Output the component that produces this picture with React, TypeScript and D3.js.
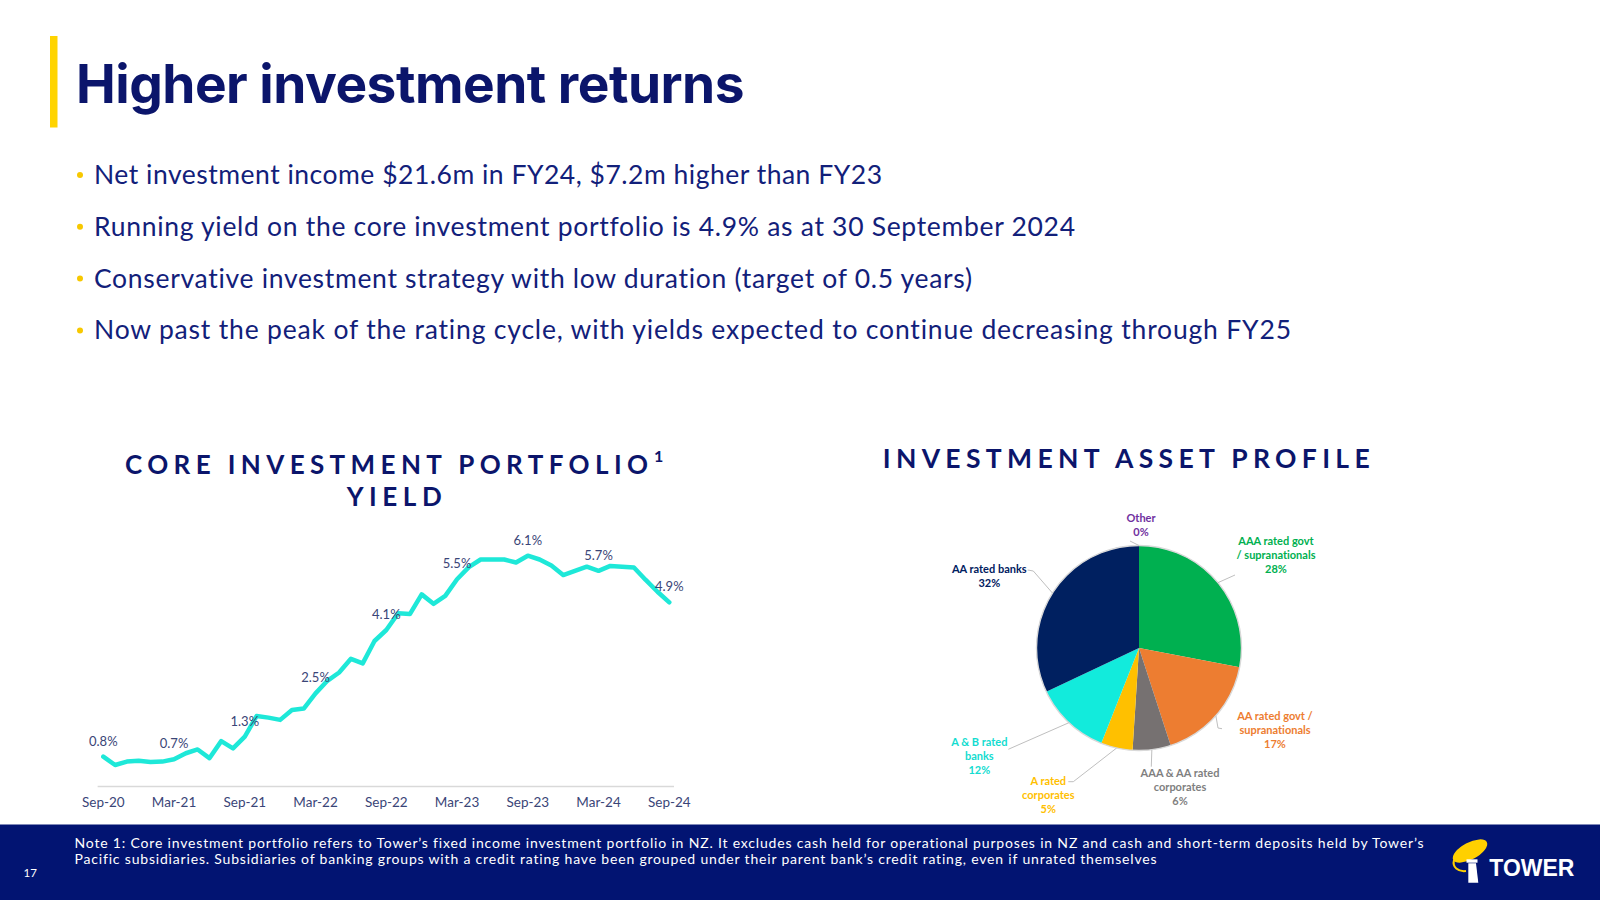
import React from 'react';
import * as d3 from 'd3';

// ---------- Data ----------
const TITLE = 'Higher investment returns';
const BULLETS = [
  'Net investment income $21.6m in FY24, $7.2m higher than FY23',
  'Running yield on the core investment portfolio is 4.9% as at 30 September 2024',
  'Conservative investment strategy with low duration (target of 0.5 years)',
  'Now past the peak of the rating cycle, with yields expected to continue decreasing through FY25',
];
const FOOTNOTE = [
  "Note 1: Core investment portfolio refers to Tower\u2019s fixed income investment portfolio in NZ.  It excludes cash held for operational purposes in NZ and cash and short-term deposits held by Tower\u2019s",
  "Pacific subsidiaries. Subsidiaries of banking groups with a credit rating have been grouped under their parent bank\u2019s credit rating, even if unrated themselves",
];

// Monthly yield (%), Sep-20 .. Sep-24
const YIELD = [
  0.80, 0.58, 0.67, 0.69, 0.66, 0.67, 0.73, 0.89, 0.99, 0.76, 1.21, 1.02,
  1.33, 1.87, 1.83, 1.77, 2.03, 2.07, 2.47, 2.80, 3.02, 3.38, 3.26, 3.85,
  4.14, 4.58, 4.56, 5.08, 4.83, 5.04, 5.48, 5.80, 6.00, 6.00, 6.00, 5.92,
  6.10, 6.00, 5.84, 5.59, 5.70, 5.81, 5.70, 5.83, 5.81, 5.79, 5.46, 5.15,
  4.87,
];
const TICK_LABELS = ['Sep-20', 'Mar-21', 'Sep-21', 'Mar-22', 'Sep-22', 'Mar-23', 'Sep-23', 'Mar-24', 'Sep-24'];
const LABEL_MONTHS = [0, 6, 12, 18, 24, 30, 36, 42, 48];
const LABEL_VALUES = [0.8, 0.7, 1.3, 2.5, 4.1, 5.5, 6.1, 5.7, 4.9];

const PIE_CATEGORIES = [
  ['Other'],
  ['AAA rated govt', '/ supranationals'],
  ['AA rated govt /', 'supranationals'],
  ['AAA & AA rated', 'corporates'],
  ['A rated', 'corporates'],
  ['A & B rated', 'banks'],
  ['AA rated banks'],
];
const PIE_VALUES = [0, 28, 17, 6, 5, 12, 32];
const PIE_COLORS = ['#7030a0', '#00b050', '#ed7d31', '#767171', '#ffc000', '#12ebdc', '#002060'];
const PIE_TEXT_COLORS = ['#7030a0', '#00b050', '#ed7d31', '#7f7f7f', '#ffc000', '#13dcd0', '#002060'];

// ---------- Layout ----------
const NAVY = '#0b156b';
const TEXT_NAVY = '#12207a';
const LINE_LABEL = '#3a4577';
const PIE_CX = 1139;
const PIE_CY = 648;
const PIE_R = 102.5;
const PIE_LABEL_LAYOUT = [
  { lx: 1141, ly: 517.3, leader: [[1130, 541]] },
  { lx: 1276, ly: 540.3, leader: [[1235, 575]] },
  { lx: 1275, ly: 715.7, leader: [[1218, 728], [1222, 728.7]] },
  { lx: 1180, ly: 772.3, leader: [[1151.3, 766.7]] },
  { lx: 1048.3, ly: 780, leader: [[1073.3, 781.7], [1068.3, 781.7]] },
  { lx: 979.3, ly: 741.7, leader: [[1008.3, 749.3]] },
  { lx: 989.3, ly: 568.3, leader: [[1033.3, 571], [1027.7, 570]] },
];
const BULLET_WIDTHS = [788, 981, 878, 1197];

export default function App() {
  const x = d3.scaleLinear().domain([0, YIELD.length - 1]).range([103.3, 669.3]);
  const y = d3.scaleLinear().domain([0, 6.1]).range([787, 555.7]);
  const line = d3.line<number>().x((_, i) => x(i)).y((d) => y(d));

  const pie = d3.pie<number>().sort(null).value((d) => d)(PIE_VALUES);
  const arc = d3.arc<d3.PieArcDatum<number>>().innerRadius(0).outerRadius(PIE_R);

  const fontMain = 'Lato, "Open Sans", sans-serif';

  return (
    <svg width={1600} height={900}
      style={{ position: 'absolute', left: 0, top: 0, background: '#fff', fontVariantLigatures: 'none', fontFeatureSettings: '"liga" 0, "clig" 0' }}>
      <rect x={0} y={0} width={1600} height={900} fill="#fff" />
      {/* Title */}
      <rect x={50} y={36} width={7.5} height={91.5} fill="#ffd400" />
      <text x={76} y={103.3} fontFamily='Inter, Lato, sans-serif' fontWeight={700} fontSize={53} fill={NAVY}
        textLength={668} lengthAdjust="spacingAndGlyphs" letterSpacing={-0.5}>{TITLE}</text>

      {/* Bullets */}
      {BULLETS.map((b, i) => {
        const by = 184 + i * 51.8;
        return (
          <g key={i}>
            <circle cx={80} cy={by - 9} r={3} fill="#f7c800" />
            <text x={94} y={by} fontFamily={fontMain} fontSize={26.5} fill={TEXT_NAVY}
              textLength={BULLET_WIDTHS[i]} lengthAdjust="spacing">{b}</text>
          </g>
        );
      })}

      {/* Line chart title */}
      <text x={125} y={474} fontFamily={fontMain} fontWeight={700} fontSize={26} fill={NAVY}
        textLength={523} lengthAdjust="spacing">CORE INVESTMENT PORTFOLIO</text>
      <text x={654} y={462} fontFamily={fontMain} fontWeight={700} fontSize={16} fill={NAVY}>1</text>
      <text x={346.7} y={505.7} fontFamily={fontMain} fontWeight={700} fontSize={26} fill={NAVY}
        textLength={95} lengthAdjust="spacing">YIELD</text>

      {/* Line chart axis */}
      <line x1={x(-0.48)} x2={x(48.4)} y1={786.5} y2={786.5} stroke="#d9d9d9" strokeWidth={1.3} />
      {TICK_LABELS.map((t, i) => (
        <text key={t} x={x(i * 6)} y={807} textAnchor="middle" fontFamily={fontMain} fontSize={13.5} fill={LINE_LABEL}>{t}</text>
      ))}
      <path d={line(YIELD) || ''} fill="none" stroke="#1ee8d8" strokeWidth={4.5} strokeLinejoin="round" strokeLinecap="round" />
      {LABEL_MONTHS.map((m, i) => (
        <text key={m} x={x(m)} y={y(YIELD[m]) - 11} textAnchor="middle" fontFamily={fontMain} fontSize={13} fill={LINE_LABEL}>
          {LABEL_VALUES[i].toFixed(1)}%
        </text>
      ))}

      {/* Pie title */}
      <text x={882.7} y={468} fontFamily={fontMain} fontWeight={700} fontSize={26.5} fill={NAVY}
        textLength={487} lengthAdjust="spacing">INVESTMENT ASSET PROFILE</text>

      {/* Pie */}
      <g transform={`translate(${PIE_CX},${PIE_CY})`}>
        {pie.map((p, i) => (
          <path key={i} d={arc(p) || ''} fill={PIE_COLORS[i]} />
        ))}
        <circle r={PIE_R} fill="none" stroke="#d9d9d9" strokeWidth={1.4} />
      </g>
      {pie.map((p, i) => {
        const mid = (p.startAngle + p.endAngle) / 2;
        const sx = PIE_CX + PIE_R * Math.sin(mid);
        const sy = PIE_CY - PIE_R * Math.cos(mid);
        const L = PIE_LABEL_LAYOUT[i];
        const pts = [[sx, sy], ...L.leader];
        const lines = [...PIE_CATEGORIES[i], `${PIE_VALUES[i]}%`];
        return (
          <g key={'l' + i}>
            <path d={d3.line()(pts as [number, number][]) || ''} fill="none" stroke="#bfbfbf" strokeWidth={1} />
            {lines.map((ln, j) => (
              <text key={j} x={L.lx} y={L.ly + j * 14} dominantBaseline="central" textAnchor="middle"
                fontFamily={fontMain} fontWeight={700} fontSize={11} fill={PIE_TEXT_COLORS[i]}>{ln}</text>
            ))}
          </g>
        );
      })}

      {/* Footer */}
      <rect x={0} y={824.5} width={1600} height={75.5} fill="#021472" />
      {FOOTNOTE.map((f, i) => (
        <text key={i} x={74.5} y={848 + i * 16} fontFamily={fontMain} fontSize={14} fill="#ffffff"
          textLength={i === 0 ? 1349 : 1082} lengthAdjust="spacing">{f}</text>
      ))}
      <text x={23.5} y={877} fontFamily={fontMain} fontSize={11.5} fill="#ffffff">17</text>

      {/* Logo */}
      <g>
        <ellipse cx={1470} cy={851} rx={19} ry={8.5} transform="rotate(-28 1470 851)" fill="#ffd000" />
        <path d="M1454,860 C1452,867 1458,872 1466,871" fill="none" stroke="#ffd000" strokeWidth={2} />
        <rect x={1466.5} y={859.3} width={11} height={3.4} fill="#ffffff" />
        <path d="M1468.3,863.3 L1476,863.3 L1478.3,882.7 L1468.3,882.7 Z" fill="#ffffff" />
        <text x={1489.3} y={876} fontFamily='"Liberation Sans", Arial, sans-serif' fontWeight={700} fontSize={23}
          fill="#ffffff" textLength={85} lengthAdjust="spacingAndGlyphs">TOWER</text>
      </g>
    </svg>
  );
}
